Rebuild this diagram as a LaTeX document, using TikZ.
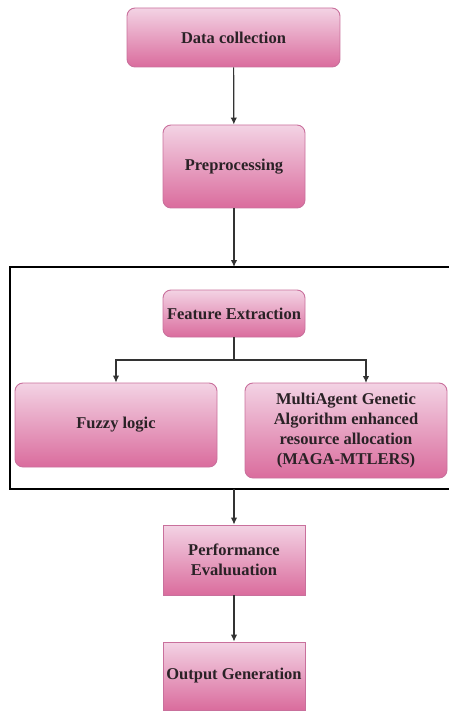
\documentclass[tikz,border=0pt]{standalone}
\usepackage{fontspec}
\setmainfont{Liberation Serif}
\usetikzlibrary{arrows.meta,calc}
\definecolor{pktop}{HTML}{F3D3E4}
\definecolor{pkbot}{HTML}{DA6C9D}
\definecolor{pkline}{HTML}{C9709C}
\definecolor{lnc}{HTML}{333333}
\definecolor{txc}{HTML}{2A2226}
\tikzset{
  pbox/.style={draw=pkline, line width=0.9pt, top color=pktop, bottom color=pkbot,
    inner sep=2pt, align=center, text=txc,
    font=\fontsize{16.5}{20}\selectfont\bfseries},
  rbox/.style={pbox, rounded corners=8pt},
  conn/.style={draw=lnc, line width=1.2pt, -{Latex[length=7pt,width=6.5pt]}},
  plain/.style={draw=lnc, line width=1.2pt}
}
\begin{document}
\begin{tikzpicture}[x=1pt,y=-1pt]
\useasboundingbox (0,0) rectangle (448,711);
\node[rbox, minimum width=213pt, minimum height=59pt] (data) at (233.5,37.5) {Data collection};
\node[rbox, minimum width=142pt, minimum height=83pt] (prep) at (234,166.5) {Preprocessing};
\node[draw=black, line width=1.1pt, minimum width=442pt, minimum height=222pt, inner sep=0pt] (frame) at (231,378) {};
\node[rbox, minimum width=142pt, minimum height=47pt] (feat) at (234,313.5) {Feature Extraction};
\node[rbox, minimum width=202pt, minimum height=84pt] (fuzzy) at (116,425) {Fuzzy logic};
\node[rbox, minimum width=202pt, minimum height=95pt] (maga) at (346,430.5) {MultiAgent Genetic\\Algorithm enhanced\\resource allocation\\(MAGA-MTLERS)};
\node[pbox, minimum width=142pt, minimum height=70pt] (perf) at (234,560) {Performance\\Evaluuation};
\node[pbox, minimum width=142pt, minimum height=68pt] (out) at (234,676) {Output Generation};
\coordinate (br) at (234,360);
\coordinate (mtop) at (366,383);
\coordinate (fin) at (234,267);
\coordinate (fout) at (234,489);
\draw[conn] (data) -- (prep);
\draw[conn] (prep.south) -- (fin);
\draw[plain] (feat.south) -- (br);
\draw[conn] (br) -| (fuzzy.north);
\draw[conn] (br) -| (mtop);
\draw[conn] (fout) -- (perf.north);
\draw[conn] (perf) -- (out);
\end{tikzpicture}
\end{document}
